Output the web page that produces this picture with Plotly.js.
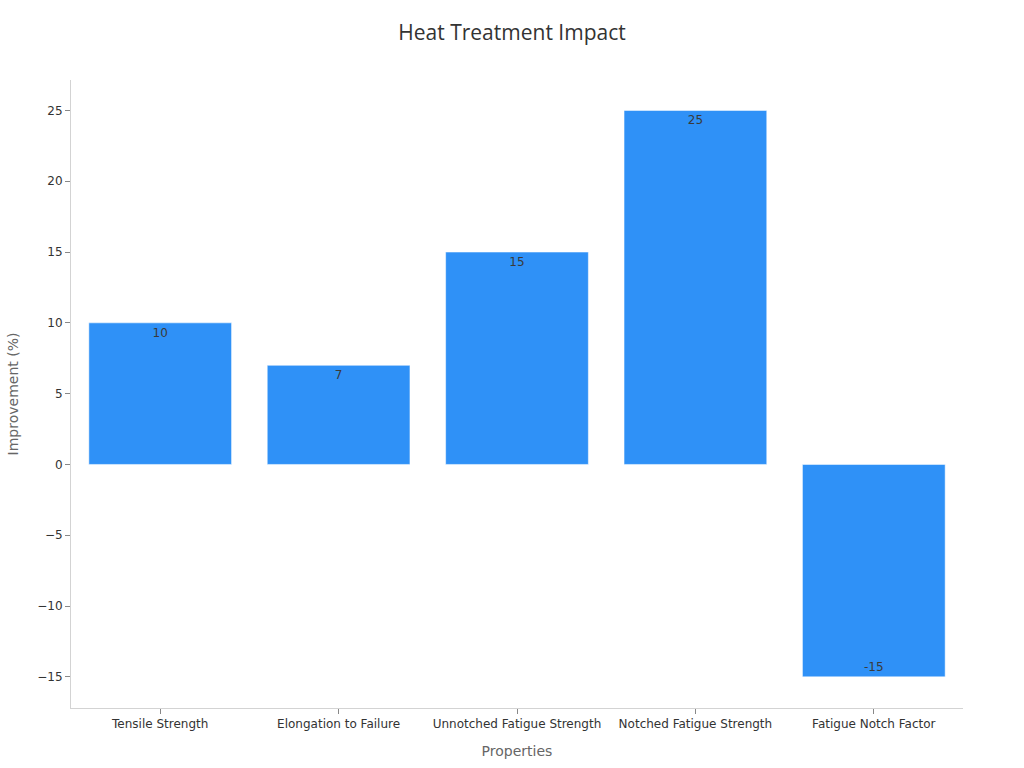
<!DOCTYPE html>
<html>
<head>
<meta charset="utf-8">
<script src="https://cdn.plot.ly/plotly-3.0.1.min.js"></script>
<style>html,body{margin:0;padding:0;background:#fff;}#chart{width:1024px;height:768px;}</style>
</head>
<body>
<div id="chart"></div>
<script>
const categories = ["Tensile Strength", "Elongation to Failure", "Unnotched Fatigue Strength", "Notched Fatigue Strength", "Fatigue Notch Factor"];
const improvement = [10, 7, 15, 25, -15];
const yTickVals = [-15, -10, -5, 0, 5, 10, 15, 20, 25];
const yTickText = ["\u221215", "\u221210", "\u22125", "0", "5", "10", "15", "20", "25"];

const trace = {
  type: "bar",
  x: categories,
  y: improvement,
  text: improvement.map(String),
  textposition: "inside",
  insidetextanchor: "end",
  textfont: {family: "DejaVu Sans", size: 12, color: "#3a3a3a"},
  marker: {color: "#2F91F7", line: {color: "rgba(255,255,255,0.5)", width: 1}},
  hoverinfo: "none"
};

const layout = {
  width: 1024, height: 768,
  margin: {l: 71, r: 61, t: 80, b: 60},
  paper_bgcolor: "#ffffff", plot_bgcolor: "#ffffff",
  font: {family: "DejaVu Sans", size: 12, color: "#333333"},
  title: {text: "Heat Treatment Impact", x: 0.5, xanchor: "center", y: 0.957, yanchor: "middle",
          font: {family: "Open Sans", size: 21, color: "#333333"}},
  bargap: 0.2,
  showlegend: false,
  xaxis: {
    title: {text: "Properties", font: {family: "DejaVu Sans", size: 14, color: "#666666"}, standoff: 15},
    showline: true, linecolor: "#d3d3d3", linewidth: 1,
    ticks: "outside", ticklen: 5, tickcolor: "#888888",
    showgrid: false, zeroline: false,
    tickfont: {family: "DejaVu Sans", size: 12, color: "#333333"}
  },
  yaxis: {
    title: {text: "Improvement (%)", font: {family: "DejaVu Sans", size: 14, color: "#666666"}, standoff: 15},
    range: [-17.2, 27.15],
    tickvals: yTickVals, ticktext: yTickText,
    showline: true, linecolor: "#d3d3d3", linewidth: 1,
    ticks: "outside", ticklen: 5, tickcolor: "#888888",
    showgrid: false, zeroline: false,
    tickfont: {family: "DejaVu Sans", size: 12, color: "#333333"}
  }
};

Plotly.newPlot("chart", [trace], layout, {displayModeBar: false, staticPlot: true});
</script>
</body>
</html>
